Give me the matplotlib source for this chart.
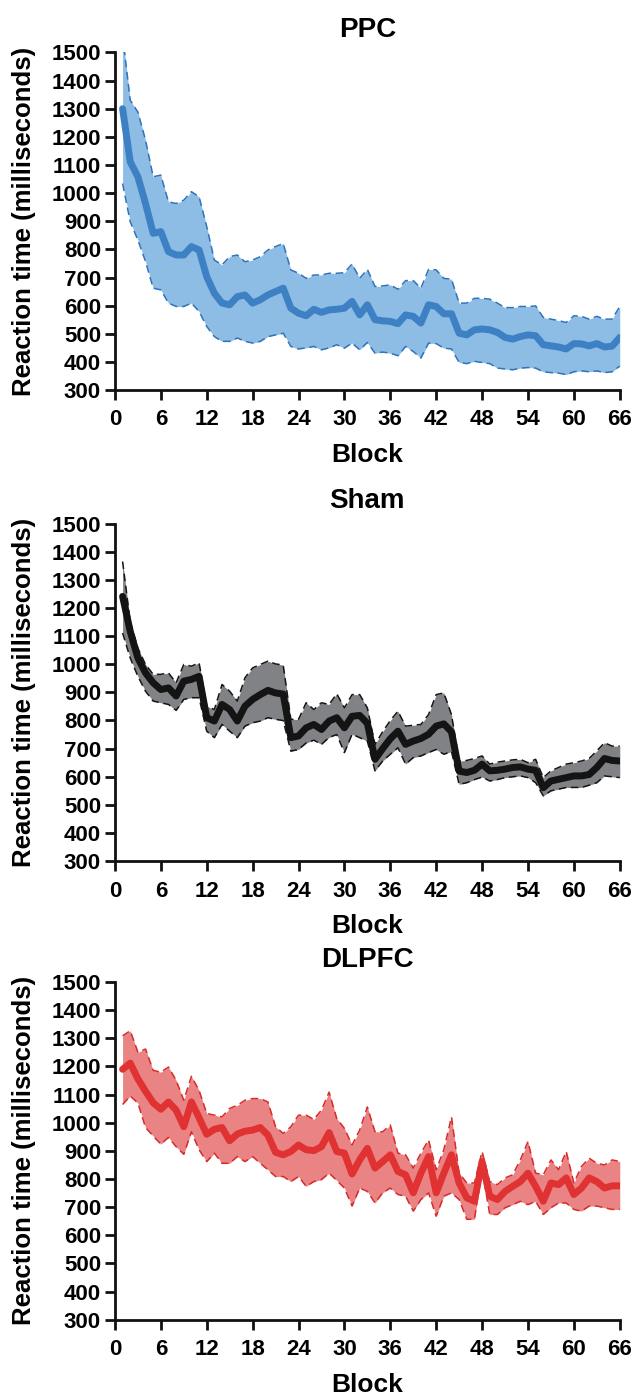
import numpy as np
import matplotlib
matplotlib.use("Agg")
import matplotlib.pyplot as plt

plt.rcParams['font.family'] = ['Liberation Sans', 'DejaVu Sans']
plt.rcParams['font.weight'] = 'bold'

blocks = np.arange(1, 67)

# PPC
ppc_mean = [1300, 1111, 1058, 963, 857, 863, 792, 780, 780, 810, 798, 703, 644, 609, 603, 632,
            638, 609, 621, 638, 650, 662, 591, 573, 564, 587, 576, 585, 587, 591, 615, 567,
            603, 550, 546, 544, 536, 567, 562, 538, 603, 597, 571, 571, 502, 496, 514, 517,
            514, 505, 487, 481, 490, 496, 493, 461, 457, 453, 446, 465, 464, 457, 465, 453,
            456, 487]
ppc_upper = [1560, 1330, 1288, 1188, 1058, 1064, 969, 963, 975, 1005, 987, 881, 762, 745, 774, 780,
             756, 762, 774, 798, 810, 821, 727, 715, 697, 709, 709, 715, 715, 717, 748, 697,
             729, 668, 670, 674, 658, 689, 689, 662, 729, 727, 697, 694, 609, 609, 626, 626,
             623, 609, 593, 593, 597, 597, 599, 558, 552, 547, 540, 564, 562, 552, 562, 552,
             552, 597]
ppc_lower = [1034, 898, 833, 757, 662, 656, 609, 597, 597, 609, 579, 526, 490, 473, 473, 485,
             473, 467, 473, 490, 496, 502, 455, 446, 450, 455, 443, 450, 461, 449, 467, 443,
             469, 431, 435, 431, 422, 455, 437, 414, 467, 465, 449, 446, 398, 394, 402, 398,
             394, 378, 375, 372, 378, 380, 378, 365, 362, 360, 355, 365, 368, 365, 368, 362,
             365, 385]

# Sham
sham_mean = [1241, 1117, 1022, 969, 934, 910, 916, 887, 940, 946, 957, 810, 798, 857, 839, 798,
             851, 875, 892, 907, 898, 894, 739, 745, 774, 786, 768, 798, 810, 774, 815, 818,
             790, 662, 700, 735, 762, 715, 727, 736, 751, 780, 788, 760, 620, 615, 623, 645,
             621, 623, 627, 633, 635, 627, 623, 561, 585, 591, 597, 603, 603, 608, 633, 665,
             658, 656]
sham_upper = [1365, 1152, 1057, 999, 964, 964, 969, 934, 999, 993, 1005, 851, 839, 928, 904, 869,
              952, 987, 999, 1011, 1001, 997, 804, 804, 863, 839, 863, 857, 895, 845, 892, 892,
              845, 715, 760, 800, 833, 780, 783, 786, 821, 892, 898, 821, 656, 658, 665, 674,
              645, 652, 656, 660, 662, 650, 662, 597, 621, 633, 645, 650, 656, 665, 692, 721,
              709, 709]
sham_lower = [1111, 1022, 957, 904, 869, 863, 857, 836, 875, 881, 881, 762, 739, 786, 762, 739,
              780, 792, 798, 810, 804, 800, 691, 697, 720, 730, 715, 740, 750, 686, 751, 739,
              727, 621, 656, 680, 703, 645, 668, 674, 686, 697, 680, 690, 573, 579, 590, 599,
              585, 590, 597, 600, 603, 597, 579, 532, 550, 556, 562, 562, 562, 570, 579, 603,
              600, 597]

# DLPFC
dlpfc_mean = [1190, 1212, 1156, 1112, 1071, 1048, 1074, 1045, 986, 1074, 1018, 959, 977, 983, 936, 960,
              970, 974, 983, 956, 895, 886, 898, 921, 904, 901, 915, 965, 898, 892, 818, 868,
              909, 839, 862, 886, 827, 815, 751, 821, 880, 751, 821, 886, 786, 733, 721, 862,
              739, 727, 756, 774, 791, 821, 774, 721, 786, 780, 804, 745, 768, 804, 791, 768,
              776, 776]
dlpfc_upper = [1309, 1327, 1251, 1262, 1186, 1180, 1198, 1151, 1080, 1165, 1115, 1033, 1027, 1021, 1051, 1062,
               1080, 1086, 1086, 1074, 986, 962, 986, 1027, 1027, 1012, 1045, 1109, 1015, 980, 921, 974,
               1056, 968, 968, 992, 892, 886, 839, 892, 939, 833, 904, 1021, 821, 786, 786, 898,
               791, 780, 804, 815, 868, 933, 821, 815, 868, 833, 898, 786, 845, 874, 856, 850,
               868, 862]
dlpfc_lower = [1065, 1095, 1070, 983, 953, 924, 948, 915, 888, 968, 904, 862, 892, 856, 856, 880,
               862, 880, 856, 833, 809, 809, 791, 809, 774, 791, 798, 821, 795, 768, 704, 768,
               756, 715, 751, 768, 745, 739, 686, 727, 751, 668, 739, 751, 727, 657, 657, 833,
               674, 674, 698, 709, 721, 709, 721, 674, 698, 715, 715, 692, 686, 704, 704, 698,
               692, 692]

panels = [
    ("PPC", ppc_mean, ppc_upper, ppc_lower, '#3d80c4', '#8dbce4', '#2f74bb'),
    ("Sham", sham_mean, sham_upper, sham_lower, '#141414', '#808285', '#141414'),
    ("DLPFC", dlpfc_mean, dlpfc_upper, dlpfc_lower, '#e03232', '#ea8484', '#d82a2a'),
]
bottoms = [0.721, 0.384, 0.056]

fig = plt.figure(figsize=(6.35, 13.98), dpi=100)

for (title, mean, upper, lower, lc, fc, ec), bot in zip(panels, bottoms):
    ax = fig.add_axes([0.181, bot, 0.795, 0.2415])
    ax.fill_between(blocks, lower, upper, color=fc, lw=0)
    ax.plot(blocks, upper, color=ec, lw=1.1, ls=(0, (5, 3)))
    ax.plot(blocks, lower, color=ec, lw=1.1, ls=(0, (5, 3)))
    ax.plot(blocks, mean, color=lc, lw=5, solid_capstyle='round', solid_joinstyle='round')

    ax.set_xlim(0, 66)
    ax.set_ylim(300, 1500)
    ax.set_xticks(range(0, 67, 6))
    ax.set_yticks(range(300, 1501, 100))
    for s in ['top', 'right']:
        ax.spines[s].set_visible(False)
    for s in ['left', 'bottom']:
        ax.spines[s].set_linewidth(2.0)
        ax.spines[s].set_color('#111111')
    ax.tick_params(axis='both', width=2, length=7, color='#111111', labelsize=16)
    ax.tick_params(axis='y', pad=3)
    ax.tick_params(axis='x', pad=7)
    for lab in ax.get_xticklabels() + ax.get_yticklabels():
        lab.set_fontweight('bold')
    ax.set_title(title, fontsize=20, fontweight='bold', pad=11)
    ax.set_xlabel("Block", fontsize=19, fontweight='bold', labelpad=9)
    ax.set_ylabel("Reaction time (milliseconds)", fontsize=18.5, fontweight='bold',
                  labelpad=11)

fig.savefig("out.png", dpi=100)
